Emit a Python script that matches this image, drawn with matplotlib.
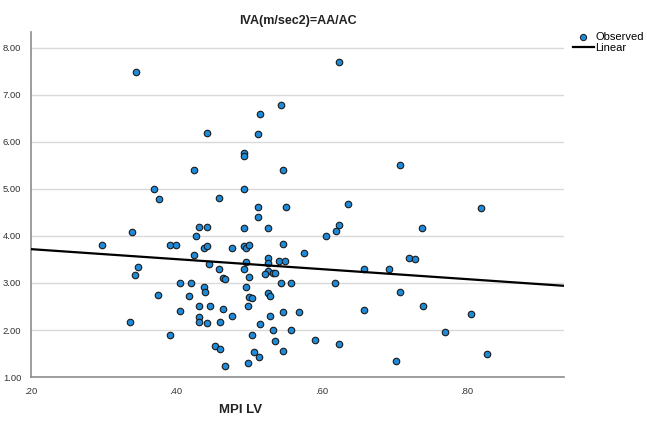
import numpy as np
import matplotlib
matplotlib.use('Agg')
import matplotlib.pyplot as plt
from matplotlib.lines import Line2D

plt.rcParams['font.family'] = ['Liberation Sans', 'DejaVu Sans']

# observed points
mpi_lv = [0.298, 0.339, 0.337, 0.343, 0.347, 0.344, 0.370, 0.376, 0.375, 0.391,
          0.400, 0.391, 0.406, 0.406, 0.418, 0.421, 0.424, 0.427, 0.425, 0.432,
          0.443, 0.442, 0.439, 0.443, 0.446, 0.438, 0.440, 0.432, 0.447, 0.432,
          0.432, 0.443, 0.459, 0.459, 0.465, 0.468, 0.465, 0.460, 0.453, 0.460,
          0.467, 0.477, 0.477, 0.493, 0.494, 0.493, 0.493, 0.493, 0.497, 0.500,
          0.497, 0.493, 0.501, 0.497, 0.500, 0.504, 0.499, 0.504, 0.499, 0.508,
          0.514, 0.515, 0.513, 0.515, 0.513, 0.513, 0.526, 0.526, 0.526, 0.527,
          0.522, 0.534, 0.537, 0.526, 0.529, 0.529, 0.534, 0.537, 0.544, 0.548,
          0.551, 0.548, 0.542, 0.550, 0.544, 0.558, 0.548, 0.569, 0.559, 0.548,
          0.576, 0.592, 0.607, 0.620, 0.624, 0.624, 0.637, 0.619, 0.624, 0.659,
          0.659, 0.693, 0.709, 0.709, 0.703, 0.721, 0.730, 0.739, 0.741, 0.771,
          0.807, 0.820, 0.829]
iva = [3.80, 4.09, 2.18, 3.18, 3.33, 7.49, 5.00, 4.78, 2.74, 3.80,
       3.80, 1.90, 3.00, 2.40, 2.72, 3.00, 3.60, 4.00, 5.40, 4.20,
       4.20, 6.20, 3.75, 3.79, 3.40, 2.91, 2.80, 2.50, 2.50, 2.27,
       2.16, 2.14, 4.81, 3.30, 3.11, 3.09, 2.44, 2.18, 1.66, 1.60,
       1.23, 3.75, 2.30, 5.76, 5.70, 5.00, 4.16, 3.79, 3.75, 3.80,
       3.45, 3.30, 3.12, 2.91, 2.70, 2.69, 2.50, 1.89, 1.30, 1.53,
       1.43, 2.12, 6.18, 6.60, 4.61, 4.40, 4.16, 3.54, 3.42, 3.25,
       3.20, 3.21, 3.21, 2.78, 2.72, 2.30, 2.00, 1.76, 6.79, 5.40,
       4.61, 3.82, 3.47, 3.46, 3.00, 3.00, 2.38, 2.38, 2.00, 1.56,
       3.63, 1.78, 4.00, 4.11, 4.24, 7.70, 4.68, 3.00, 1.70, 3.30,
       2.43, 3.30, 5.51, 2.81, 1.33, 3.54, 3.52, 4.16, 2.50, 1.95,
       2.33, 4.60, 1.50]

# linear fit line end points
fit_x = [0.20, 0.935]
fit_y = [3.72, 2.94]

x_ticks = [0.20, 0.40, 0.60, 0.80]
x_labels = ['.20', '.40', '.60', '.80']
y_ticks = [1, 2, 3, 4, 5, 6, 7, 8]

fig = plt.figure(figsize=(6.47, 4.21), dpi=100)
ax = fig.add_axes([0.048, 0.1045, 0.824, 0.8195])

ax.set_xlim(0.20, 0.935)
ax.set_ylim(1.0, 8.34)
for yv in y_ticks[1:]:
    ax.axhline(yv, color='#d9d9d9', lw=1.0, zorder=0)

ax.scatter(mpi_lv, iva, s=22, c='#1f8ad8', edgecolors='#1a1a1a',
           linewidths=0.8, zorder=3)
ax.plot(fit_x, fit_y, color='black', lw=1.6, zorder=4)

ax.set_xticks(x_ticks)
ax.set_xticklabels(x_labels)
ax.set_yticks(y_ticks)
ax.set_yticklabels(['%.2f' % v for v in y_ticks])
ax.tick_params(length=0, labelsize=6.8, colors='#333333', pad=7)

for s in ['top', 'right']:
    ax.spines[s].set_visible(False)
for s in ['left', 'bottom']:
    ax.spines[s].set_color('#8c8c8c')
    ax.spines[s].set_linewidth(1.2)

fig.text(0.46, 0.950, 'IVA(m/sec2)=AA/AC', ha='center', va='center',
         fontsize=9, fontweight='bold', color='#222222')
fig.text(0.372, 0.026, 'MPI LV', ha='center', va='center',
         fontsize=9.5, fontweight='bold', color='#222222')

handles = [Line2D([], [], marker='o', ls='', color='#1f8ad8', markeredgecolor='#1a1a1a',
                  markersize=4.5, markeredgewidth=0.7),
           Line2D([], [], color='black', lw=1.6)]
fig.legend(handles, ['Observed', 'Linear'], loc='upper left',
           bbox_to_anchor=(0.885, 0.923), frameon=False, fontsize=8,
           handlelength=1.9, handletextpad=0.15, labelspacing=0.05,
           borderpad=0, borderaxespad=0)

fig.savefig('out.png', dpi=100)
